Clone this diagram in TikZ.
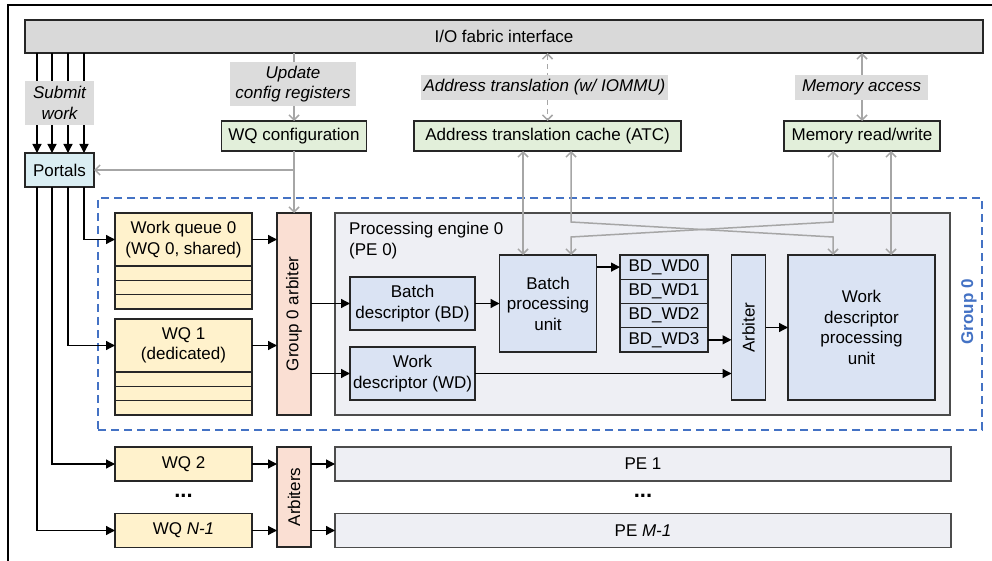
\documentclass[tikz,border=0pt]{standalone}
\usepackage{fontspec}
\setmainfont{Liberation Sans}
\usepackage{tikz}
\usetikzlibrary{arrows.meta,positioning,calc}

\definecolor{iogray}{HTML}{D9D9D9}
\definecolor{lblgray}{HTML}{DCDCDC}
\definecolor{portcyan}{HTML}{DAEEF3}
\definecolor{cfggreen}{HTML}{E2EFDA}
\definecolor{wqyellow}{HTML}{FFF2CC}
\definecolor{arbpink}{HTML}{FADFD3}
\definecolor{pegray}{HTML}{EEEFF4}
\definecolor{unitblue}{HTML}{DAE3F3}
\definecolor{grpblue}{HTML}{4472C4}
\definecolor{linkgray}{HTML}{A6A6A6}

\begin{document}
\begin{tikzpicture}[x=1pt,y=-1pt,
	font=\fontsize{17}{20.5}\selectfont,
	box/.style={draw=black!85,line width=1.2pt,inner sep=0pt,outer sep=0pt,align=center},
	row/.style={box,fill=wqyellow,minimum width=137pt,minimum height=14.3pt},
	lbl/.style={fill=lblgray,inner sep=0pt,align=center,font=\fontsize{17}{20.5}\selectfont\itshape},
	dots/.style={font=\fontsize{22}{22}\selectfont\bfseries},
	blk/.style={-{Triangle[length=9pt,width=9pt]},line width=1.3pt},
	lnk/.style={linkgray,line width=1.5pt},
	tip/.style={-{Straight Barb[length=5pt,width=10pt]}},
	tips/.style={{Straight Barb[length=5pt,width=10pt]}-{Straight Barb[length=5pt,width=10pt]}}]
	\useasboundingbox (0,0) rectangle (992,561);
	\draw[line width=2pt] (8,561) -- (8,5) -- (992,5);

	% x and y positions of the wires
	\coordinate (s1) at (37,0);
	\coordinate (s2) at (52,0);
	\coordinate (s3) at (68,0);
	\coordinate (s4) at (84,0);
	\coordinate (b1) at (523,0);
	\coordinate (b2) at (571,0);
	\coordinate (w1) at (833,0);
	\coordinate (w2) at (891,0);
	\coordinate (k1) at (0,222);
	\coordinate (k2) at (0,237);

	\node[box,fill=iogray,minimum width=958pt,minimum height=33pt] (io) at (504,36.5) {I/O fabric interface};
	\node[box,fill=portcyan,minimum width=69pt,minimum height=34pt] (portals) at (59.5,170) {Portals};
	\node[box,fill=cfggreen,minimum width=145pt,minimum height=30pt] (wqcfg) at (294,136) {WQ configuration};
	\node[box,fill=cfggreen,minimum width=267pt,minimum height=30pt] (atc) at (547.5,136) {Address translation cache (ATC)};
	\node[box,fill=cfggreen,minimum width=156pt,minimum height=30pt] (memrw) at (862,136) {Memory read/write};

	% group 0
	\node[draw=grpblue,line width=1.5pt,dash pattern=on 8pt off 5pt,minimum width=884pt,minimum height=232pt] (grp0) at (540,314) {};
	\node[rotate=90,text=grpblue,font=\fontsize{17}{20.5}\selectfont\bfseries] (grp0name) at (969,312) {Group 0};
	\node[box,fill=pegray,draw=black!70,minimum width=615pt,minimum height=202pt] (pe0) at (642.5,314) {};
	\node[anchor=north west,align=left,inner sep=0pt] (pe0name) at ([xshift=14pt,yshift=-9pt]pe0.north west) {Processing engine 0\\(PE 0)};

	\node[box,fill=wqyellow,minimum width=137pt,minimum height=53pt] (wq0) at (183.5,239.5) {Work queue 0\\(WQ 0, shared)};
	\node[row,below=0pt of wq0] (wq0a) {};
	\node[row,below=0pt of wq0a] (wq0b) {};
	\node[row,below=0pt of wq0b] (wq0c) {};
	\node[box,fill=wqyellow,minimum width=137pt,minimum height=53pt] (wq1) at (183.5,345.5) {WQ 1\\(dedicated)};
	\node[row,below=0pt of wq1] (wq1a) {};
	\node[row,below=0pt of wq1a] (wq1b) {};
	\node[row,below=0pt of wq1b] (wq1c) {};
	\node[box,fill=arbpink,minimum width=34pt,minimum height=202pt,label={[rotate=90]center:Group 0 arbiter}] (g0arb) at (294,314) {};

	\node[box,fill=unitblue,minimum width=125pt,minimum height=53pt] (bd) at (412.5,303.5) {Batch\\descriptor (BD)};
	\node[box,fill=unitblue,minimum width=125pt,minimum height=53pt] (wd) at (412.5,373.5) {Work\\descriptor (WD)};
	\node[box,fill=unitblue,minimum width=97pt,minimum height=97pt] (bpu) at (548,303.5) {Batch\\processing\\unit};
	\node[box,fill=unitblue,minimum width=88pt,minimum height=24.25pt] (bdwd0) at (664,267.1) {BD\_WD0};
	\node[box,fill=unitblue,minimum width=88pt,minimum height=24.25pt,below=0pt of bdwd0] (bdwd1) {BD\_WD1};
	\node[box,fill=unitblue,minimum width=88pt,minimum height=24.25pt,below=0pt of bdwd1] (bdwd2) {BD\_WD2};
	\node[box,fill=unitblue,minimum width=88pt,minimum height=24.25pt,below=0pt of bdwd2] (bdwd3) {BD\_WD3};
	\node[box,fill=unitblue,minimum width=34pt,minimum height=145pt,label={[rotate=90]center:Arbiter}] (arb) at (748.5,327.5) {};
	\node[box,fill=unitblue,minimum width=147pt,minimum height=145pt] (wdpu) at (861.5,327.5) {Work\\descriptor\\processing\\unit};

	% other groups
	\node[box,fill=wqyellow,minimum width=137pt,minimum height=34pt] (wq2) at (183.5,464) {WQ 2};
	\node[dots] (wqdots) at (183.5,496) {...};
	\node[box,fill=wqyellow,minimum width=137pt,minimum height=34pt] (wqn) at (183.5,530.5) {WQ \textit{N-1}};
	\node[box,fill=arbpink,minimum width=34pt,minimum height=100pt,label={[rotate=90]center:Arbiters}] (arbs) at (294,497) {};
	\node[box,fill=pegray,draw=black!70,minimum width=616pt,minimum height=34pt] (pe1) at (643,464) {PE 1};
	\node[dots] (pedots) at (643,496) {...};
	\node[box,fill=pegray,draw=black!70,minimum width=616pt,minimum height=34pt] (pem) at (643,530.5) {PE \textit{M-1}};

	% submit work
	\foreach \s in {s1,s2,s3,s4}
		\draw[blk] (io.south -| \s) -- (portals.north -| \s);
	\node[lbl,minimum width=69pt,minimum height=44pt] (submit) at (59.5,103) {Submit\\work};
	\draw[blk] (portals.south -| s4) |- (wq0.west);
	\draw[blk] (portals.south -| s3) |- (wq1.west);
	\draw[blk] (portals.south -| s2) |- (wq2.west);
	\draw[blk] (portals.south -| s1) |- (wqn.west);

	% configuration
	\draw[lnk,tip] (io.south -| wqcfg) -- (wqcfg.north);
	\node[lbl,minimum width=126pt,minimum height=44pt] (update) at (293,84) {Update\\config registers};
	\draw[lnk,tip] (wqcfg.south) -- (g0arb.north);
	\draw[lnk,tip] (wqcfg.south |- portals.east) -- (portals.east);

	% address translation and memory
	\draw[lnk,tips,dash pattern=on 5pt off 4pt] (io.south -| atc) -- (atc.north);
	\node[lbl,minimum width=247pt,minimum height=25pt] (addr) at (544.5,87.5) {Address translation (w/ IOMMU)};
	\draw[lnk,tips] (io.south -| memrw) -- (memrw.north);
	\node[lbl,minimum width=133pt,minimum height=25pt] (memacc) at (861.5,87.5) {Memory access};
	\draw[lnk,tips] (atc.south -| b1) -- (bpu.north -| b1);
	\draw[lnk,tips] (atc.south -| b2) -- (b2 |- k1) -- (w1 |- k2) -- (wdpu.north -| w1);
	\draw[lnk,tips] (memrw.south -| w1) -- (w1 |- k1) -- (b2 |- k2) -- (bpu.north -| b2);
	\draw[lnk,tips] (memrw.south -| w2) -- (wdpu.north -| w2);

	% dataflow
	\draw[blk] (wq0.east) -- (wq0.east -| g0arb.west);
	\draw[blk] (wq1.east) -- (wq1.east -| g0arb.west);
	\draw[blk] (g0arb.east |- bd.west) -- (bd.west);
	\draw[blk] (g0arb.east |- wd.west) -- (wd.west);
	\draw[blk] (bd.east) -- (bd.east -| bpu.west);
	\draw[blk] (bpu.east |- bdwd0.west) -- (bdwd0.west);
	\draw[blk] (bdwd3.east) -- (bdwd3.east -| arb.west);
	\draw[blk] (wd.east) -- (wd.east -| arb.west);
	\draw[blk] (arb.east) -- (arb.east -| wdpu.west);
	\draw[blk] (wq2.east) -- (wq2.east -| arbs.west);
	\draw[blk] (wqn.east) -- (wqn.east -| arbs.west);
	\draw[blk] (arbs.east |- pe1.west) -- (pe1.west);
	\draw[blk] (arbs.east |- pem.west) -- (pem.west);
\end{tikzpicture}
\end{document}
